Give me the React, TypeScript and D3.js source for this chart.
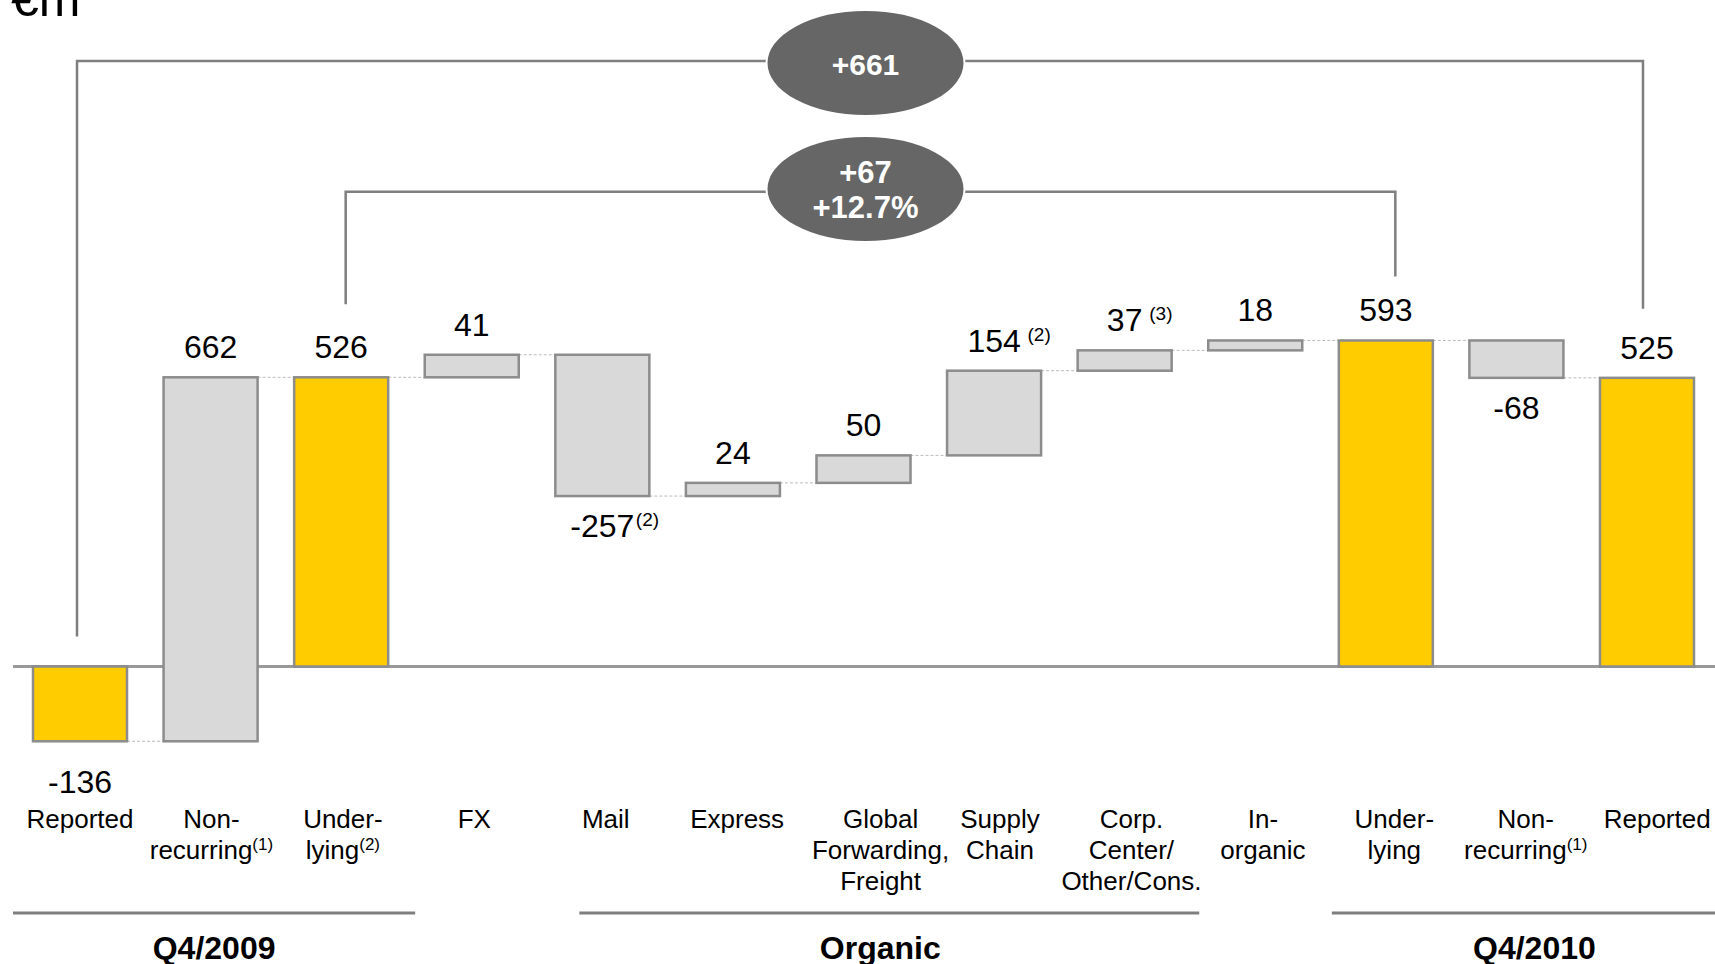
import React, { useEffect } from "react";
import * as d3 from "d3";

// ---------- data ----------
const categories = [
  "Reported", "Non-recurring", "Underlying", "FX", "Mail", "Express",
  "Global Forwarding, Freight", "Supply Chain", "Corp. Center/Other/Cons.",
  "Inorganic", "Underlying", "Non-recurring", "Reported",
];
const values = [-136, 662, 526, 41, -257, 24, 50, 154, 37, 18, 593, -68, 525];
const isTotal = [true, false, true, false, false, false, false, false, false, false, true, false, true];
const valueNotes = ["", "", "", "", "(2)", "", "", " (2)", " (3)", "", "", "", ""];
const categoryLines = [
  ["Reported"], ["Non-", "recurring"], ["Under-", "lying"], ["FX"], ["Mail"], ["Express"],
  ["Global", "Forwarding,", "Freight"], ["Supply", "Chain"], ["Corp.", "Center/", "Other/Cons."],
  ["In-", "organic"], ["Under-", "lying"], ["Non-", "recurring"], ["Reported"],
];
const categoryNotes = ["", "(1)", "(2)", "", "", "", "", "", "", "", "", "(1)", ""];
const groupLabels = ["Q4/2009", "Organic", "Q4/2010"];
const groupStart = [0, 4, 10];
const groupEnd = [2, 9, 12];
const bracketTexts = [["+661"], ["+67", "+12.7%"]];
const bracketFrom = [0, 2];
const bracketTo = [12, 10];

// ---------- style ----------
const W = 1715, H = 964;
const FONT = "'Liberation Sans', Arial, Helvetica, sans-serif";
const YELLOW = "#FFCC00";
const GREYFILL = "#D9D9D9";
const BARSTROKE = "#8C8C8C";
const LINE = "#7F7F7F";

function textWidth(s: string, size: number) {
  let w = 0;
  for (const c of s) w += c === "-" ? 0.333 : c === "(" || c === ")" ? 0.333 : c === " " ? 0.278 : 0.556;
  return w * size;
}

export default function App() {
  useEffect(() => {
    document.body.style.margin = "0";
    document.body.style.overflow = "hidden";
  }, []);

  const idx = d3.range(categories.length);
  const x = d3.scaleBand<number>().domain(idx).range([33, 1694]).paddingInner(0.28).paddingOuter(0);
  const bw = x.bandwidth();
  const cx = (i: number) => (x(i) as number) + bw / 2;
  const y = d3.scaleLinear().domain([0, 526]).range([666.5, 377.3]);

  // category labels sit slightly right of the bar centres, drifting with index
  const labelX = (i: number) => cx(i) + i * 0.85 + (i === 6 ? 12 : 0);

  let run = 0;
  const bars = values.map((v, i) => {
    const start = isTotal[i] ? 0 : run;
    const end = isTotal[i] ? v : run + v;
    run = end;
    return { i, v, start, end, lo: Math.min(start, end), hi: Math.max(start, end) };
  });

  const VSIZE = 32;
  const CSIZE = 26;

  const brackets = [
    {
      xl: cx(bracketFrom[0]) - 3, xr: cx(bracketTo[0]) - 4, yl: 61,
      bl: y(0) - 30, br: y(values[12]) - 69,
    },
    {
      xl: cx(bracketFrom[1]) + 4.5, xr: cx(bracketTo[1]) + 9.5, yl: 191.7,
      bl: y(values[2]) - 73, br: y(values[10]) - 64,
    },
  ];
  const ellX = (cx(0) + cx(12)) / 2 + 2;

  const groupLines = [
    { x1: 13, x2: (x(groupEnd[0]) as number) + bw + 27, dx: 0 },
    { x1: (x(groupStart[1]) as number) + 24, x2: (x(groupEnd[1]) as number) - 9, dx: -9 },
    { x1: (x(groupStart[2]) as number) - 7, x2: 1737, dx: 0 },
  ];

  return (
    <svg width={W} height={H} style={{ position: "absolute", left: 0, top: 0, background: "#fff" }} fontFamily={FONT}>
      <rect x={0} y={0} width={W} height={H} fill="#fff" />
      <text x={11} y={16} fontSize={50} fill="#000">€m</text>

      {/* brackets */}
      {brackets.map((b, k) => (
        <g key={"br" + k}>
          <polyline
            points={`${b.xl},${b.bl} ${b.xl},${b.yl} ${b.xr},${b.yl} ${b.xr},${b.br}`}
            fill="none" stroke={LINE} strokeWidth={2.5}
          />
          <ellipse cx={ellX} cy={k === 0 ? 63 : 189} rx={99} ry={53} fill="#666666" stroke="#fff" strokeWidth={2} />
          {bracketTexts[k].length === 1 ? (
            <text x={ellX} y={75} textAnchor="middle" fontSize={30} fontWeight="bold" fill="#fff">{bracketTexts[k][0]}</text>
          ) : (
            bracketTexts[k].map((t, j) => (
              <text key={j} x={ellX} y={183 + j * 35} textAnchor="middle" fontSize={31} fontWeight="bold" fill="#fff">{t}</text>
            ))
          )}
        </g>
      ))}

      {/* baseline */}
      <line x1={13} x2={W} y1={y(0)} y2={y(0)} stroke="#999" strokeWidth={3} />

      {/* connectors */}
      {bars.slice(0, -1).map((b) => (
        <line key={"c" + b.i}
          x1={(x(b.i) as number) + bw} x2={x(b.i + 1) as number}
          y1={y(b.end)} y2={y(b.end)}
          stroke="#BBBBBB" strokeWidth={1} strokeDasharray="3,2" />
      ))}

      {/* bars */}
      {bars.map((b) => (
        <rect key={"b" + b.i}
          x={x(b.i) as number} width={bw}
          y={y(b.hi)} height={Math.max(1, y(b.lo) - y(b.hi))}
          fill={isTotal[b.i] ? YELLOW : GREYFILL}
          stroke={BARSTROKE} strokeWidth={2.5} />
      ))}

      {/* value labels */}
      {bars.map((b) => {
        const s = String(b.v);
        const ly = b.v >= 0 ? y(b.hi) - 19 : y(b.lo) + (isTotal[b.i] ? 52 : 41);
        const w = textWidth(s, VSIZE);
        const note = valueNotes[b.i];
        return (
          <g key={"v" + b.i}>
            <text x={cx(b.i)} y={ly} textAnchor="middle" fontSize={VSIZE} fill="#000">{s}</text>
            {note && (
              <text x={cx(b.i) + w / 2 + 1.5} y={ly - 11} fontSize={19} fill="#000" style={{ whiteSpace: "pre" }}>{note}</text>
            )}
          </g>
        );
      })}

      {/* category labels */}
      {categoryLines.map((lines, i) => (
        <text key={"cat" + i} textAnchor="middle" fontSize={CSIZE} fill="#000">
          {lines.map((ln, j) => (
            <tspan key={j} x={labelX(i)} y={828 + j * 31}>
              {ln}
              {j === lines.length - 1 && categoryNotes[i] && (
                <tspan fontSize={17} dy={-9}>{categoryNotes[i]}</tspan>
              )}
            </tspan>
          ))}
        </text>
      ))}

      {/* groups */}
      {groupLines.map((g, k) => (
        <g key={"g" + k}>
          <line x1={g.x1} x2={g.x2} y1={913} y2={913} stroke={LINE} strokeWidth={3} />
          <text x={(g.x1 + g.x2) / 2 + g.dx} y={959} textAnchor="middle" fontSize={32} fontWeight="bold" fill="#000">
            {groupLabels[k]}
          </text>
        </g>
      ))}
    </svg>
  );
}
